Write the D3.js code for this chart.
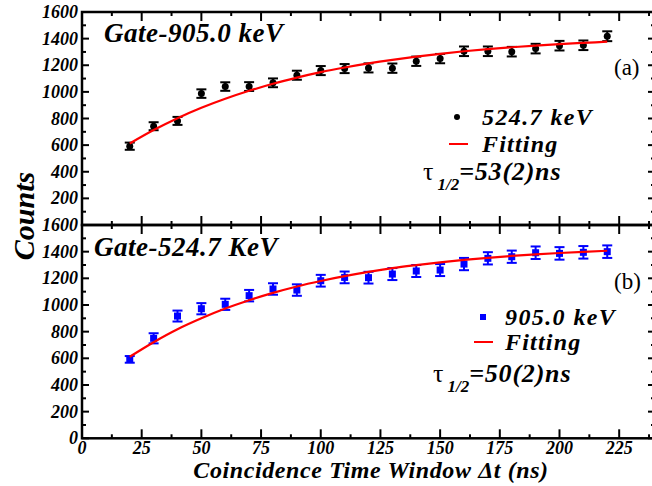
<!DOCTYPE html>
<html>
<head>
<meta charset="utf-8">
<script src="https://cdn.jsdelivr.net/npm/d3@7"></script>
<style>
  body { margin: 0; background: #fff; }
</style>
</head>
<body>
<div id="chart"></div>
<script>
// time windows (ns)
var times = [20, 30, 40, 50, 60, 70, 80, 90, 100, 110, 120, 130, 140, 150, 160, 170, 180, 190, 200, 210, 220];

// panel (a): gate 905.0 keV, 524.7 keV counts
var countsA = [592, 742, 782, 987, 1040, 1040, 1068, 1125, 1160, 1175, 1180, 1178, 1230, 1250, 1305, 1305, 1302, 1325, 1347, 1350, 1418];
var errA    = [27, 30, 30, 32, 32, 33, 33, 34, 34, 34, 34, 35, 35, 35, 36, 36, 36, 36, 36, 36, 37];
var fitA    = [612, 713, 802, 880, 948, 1008, 1061, 1107, 1148, 1183, 1214, 1241, 1265, 1286, 1305, 1321, 1335, 1348, 1359, 1368, 1377];

// panel (b): gate 524.7 keV, 905.0 keV counts
var countsB = [592, 750, 917, 972, 1005, 1070, 1120, 1112, 1182, 1207, 1205, 1232, 1255, 1262, 1307, 1350, 1362, 1392, 1387, 1395, 1400];
var errB    = [25, 38, 41, 42, 42, 43, 43, 43, 44, 44, 44, 45, 45, 45, 46, 46, 46, 47, 47, 47, 47];
var fitB    = [612, 721, 818, 900, 973, 1036, 1091, 1139, 1180, 1216, 1248, 1276, 1299, 1320, 1338, 1354, 1368, 1380, 1390, 1399, 1407];

var xTicks = [0, 25, 50, 75, 100, 125, 150, 175, 200, 225];
var yTicksA = [200, 400, 600, 800, 1000, 1200, 1400, 1600];
var yTicksB = [0, 200, 400, 600, 800, 1000, 1200, 1400, 1600];

var W = 652, H = 486;
var FONT = "'Liberation Serif', 'Times New Roman', 'DejaVu Serif', serif";
var svg = d3.select("#chart").append("svg").attr("width", W).attr("height", H)
    .attr("font-family", FONT);

var x = d3.scaleLinear().domain([0, 240]).range([82, 655]);

function panel(opt) {
    var y = d3.scaleLinear().domain([0, 1600]).range([opt.bottom, opt.top]);
    var g = svg.append("g");

    // minor / major ticks, inward on all four sides
    d3.range(0, 241, 12.5).forEach(function(v) {
        var len = (v % 25 === 0) ? 9 : 4;
        g.append("line").attr("x1", x(v)).attr("x2", x(v)).attr("y1", y(0)).attr("y2", y(0) - len)
            .attr("stroke", "#000").attr("stroke-width", 2);
        g.append("line").attr("x1", x(v)).attr("x2", x(v)).attr("y1", y(1600)).attr("y2", y(1600) + len)
            .attr("stroke", "#000").attr("stroke-width", 2);
    });
    d3.range(0, 1601, 100).forEach(function(v) {
        var len = (v % 200 === 0) ? 7 : 4;
        g.append("line").attr("x1", x(0)).attr("x2", x(0) + len).attr("y1", y(v)).attr("y2", y(v))
            .attr("stroke", "#000").attr("stroke-width", 2);
        g.append("line").attr("x1", x(240)).attr("x2", x(240) - len).attr("y1", y(v)).attr("y2", y(v))
            .attr("stroke", "#000").attr("stroke-width", 2);
    });

    g.append("rect").attr("x", x(0)).attr("y", y(1600))
        .attr("width", x(240) - x(0)).attr("height", y(0) - y(1600))
        .attr("fill", "none").attr("stroke", "#000").attr("stroke-width", 2.5);

    g.selectAll("text.ytick").data(opt.yTicks).enter().append("text")
        .attr("class", "ytick")
        .attr("x", 78).attr("y", function(d) { return y(d) + 6; })
        .attr("text-anchor", "end")
        .attr("font-size", 18).attr("font-weight", "bold").attr("font-style", "italic")
        .text(function(d) { return d; });

    // error bars
    var eb = g.append("g").attr("stroke", opt.color).attr("stroke-width", 2);
    times.forEach(function(t, i) {
        var c = opt.counts[i], e = opt.err[i];
        eb.append("line").attr("x1", x(t)).attr("x2", x(t)).attr("y1", y(c - e)).attr("y2", y(c + e));
        eb.append("line").attr("x1", x(t) - 5).attr("x2", x(t) + 5).attr("y1", y(c - e)).attr("y2", y(c - e));
        eb.append("line").attr("x1", x(t) - 5).attr("x2", x(t) + 5).attr("y1", y(c + e)).attr("y2", y(c + e));
    });

    if (opt.marker === "circle") {
        g.selectAll("circle.pt").data(times).enter().append("circle")
            .attr("cx", function(d) { return x(d); })
            .attr("cy", function(d, i) { return y(opt.counts[i]); })
            .attr("r", 3.5).attr("fill", opt.color);
    } else {
        g.selectAll("rect.pt").data(times).enter().append("rect")
            .attr("x", function(d) { return x(d) - 3.5; })
            .attr("y", function(d, i) { return y(opt.counts[i]) - 3.5; })
            .attr("width", 7).attr("height", 7).attr("fill", opt.color);
    }

    var line = d3.line()
        .x(function(d) { return x(d); })
        .y(function(d, i) { return y(opt.fit[i]); })
        .curve(d3.curveMonotoneX);
    g.append("path").datum(times).attr("d", line)
        .attr("fill", "none").attr("stroke", "#ff0000").attr("stroke-width", 2.2);

    // gate title
    g.append("text").attr("x", opt.titleX).attr("y", opt.titleY)
        .attr("font-size", 27).attr("font-weight", "bold").attr("font-style", "italic")
        .attr("letter-spacing", 0.5)
        .text(opt.title);

    g.append("text").attr("x", 614).attr("y", opt.tagY)
        .attr("font-size", 23)
        .text(opt.tag);

    // legend
    var L = opt.legend;
    if (opt.marker === "circle") {
        g.append("circle").attr("cx", L.mx).attr("cy", L.my).attr("r", 3).attr("fill", opt.color);
    } else {
        g.append("rect").attr("x", L.mx - 3).attr("y", L.my - 3).attr("width", 6).attr("height", 6).attr("fill", opt.color);
    }
    g.append("text").attr("x", L.tx).attr("y", L.my + 8)
        .attr("font-size", 24).attr("font-weight", "bold").attr("font-style", "italic")
        .attr("letter-spacing", 1.4)
        .text(opt.label);
    g.append("line").attr("x1", L.lx1).attr("x2", L.lx2).attr("y1", L.ly).attr("y2", L.ly)
        .attr("stroke", "#ff0000").attr("stroke-width", 2);
    g.append("text").attr("x", L.tx).attr("y", L.ly + 8)
        .attr("font-size", 24).attr("font-weight", "bold").attr("font-style", "italic")
        .attr("letter-spacing", 1.2)
        .text("Fitting");
    var tau = g.append("text").attr("x", L.taux).attr("y", L.tauy)
        .attr("font-size", 26);
    tau.append("tspan").text("\u03c4");
    tau.append("tspan").attr("dy", 10).attr("dx", 4).attr("font-size", 17)
        .attr("font-weight", "bold").attr("font-style", "italic").text("1/2");
    tau.append("tspan").attr("dy", -10).attr("font-weight", "bold").attr("font-style", "italic")
        .attr("letter-spacing", 0.8)
        .text(opt.half);
}

panel({
    top: 12, bottom: 225, yTicks: yTicksA, color: "#000",
    counts: countsA, err: errA, fit: fitA, marker: "circle",
    title: "Gate-905.0 keV", titleX: 104, titleY: 42,
    tag: "(a)", tagY: 75, label: "524.7 keV", half: "=53(2)ns",
    legend: { mx: 457, my: 117, tx: 482, lx1: 449, lx2: 468, ly: 144, taux: 423, tauy: 180 }
});

panel({
    top: 225, bottom: 438.3, yTicks: yTicksB, color: "#0000ff",
    counts: countsB, err: errB, fit: fitB, marker: "square",
    title: "Gate-524.7 KeV", titleX: 94, titleY: 256,
    tag: "(b)", tagY: 289, label: "905.0 keV", half: "=50(2)ns",
    legend: { mx: 483, my: 317, tx: 505, lx1: 474, lx2: 493, ly: 342, taux: 433, tauy: 382 }
});

// x tick labels
svg.selectAll("text.xtick").data(xTicks).enter().append("text")
    .attr("class", "xtick")
    .attr("x", function(d) { return x(d); }).attr("y", 454)
    .attr("text-anchor", "middle")
    .attr("font-size", 18).attr("font-weight", "bold").attr("font-style", "italic")
    .text(function(d) { return d; });

svg.append("text").attr("x", 371).attr("y", 478)
    .attr("text-anchor", "middle")
    .attr("font-size", 24).attr("font-weight", "bold").attr("font-style", "italic")
    .attr("letter-spacing", 0.6)
    .text("Coincidence Time Window \u0394t (ns)");

svg.append("text").attr("transform", "translate(34,216) rotate(-90)")
    .attr("text-anchor", "middle")
    .attr("font-size", 30).attr("font-weight", "bold").attr("font-style", "italic")
    .text("Counts");
</script>
</body>
</html>
